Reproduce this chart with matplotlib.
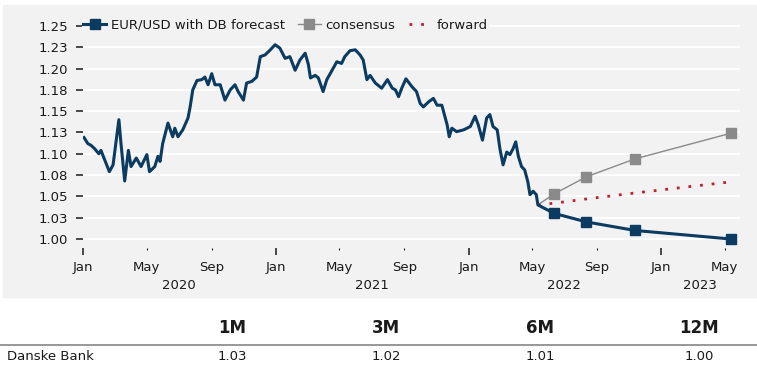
import matplotlib
matplotlib.use('Agg')
import matplotlib.pyplot as plt
import matplotlib.dates as mdates
import pandas as pd
from matplotlib.patches import Rectangle
from matplotlib.lines import Line2D

# EUR/USD spot (roughly weekly)
spot_dates = [
    '2020-01-03', '2020-01-10', '2020-01-16', '2020-01-23', '2020-01-31', '2020-02-04',
    '2020-02-11', '2020-02-20', '2020-02-27', '2020-03-04', '2020-03-09', '2020-03-13',
    '2020-03-20', '2020-03-27', '2020-04-01', '2020-04-11', '2020-04-20', '2020-05-01',
    '2020-05-06', '2020-05-16', '2020-05-22', '2020-05-26', '2020-05-31', '2020-06-10',
    '2020-06-19', '2020-06-23', '2020-06-29', '2020-07-08', '2020-07-18', '2020-07-22',
    '2020-07-27', '2020-08-04', '2020-08-13', '2020-08-19', '2020-08-25', '2020-09-01',
    '2020-09-07', '2020-09-17', '2020-09-26', '2020-10-06', '2020-10-15', '2020-10-21',
    '2020-10-31', '2020-11-06', '2020-11-16', '2020-11-25', '2020-12-02', '2020-12-11',
    '2020-12-21', '2020-12-30', '2021-01-08', '2021-01-18', '2021-01-27', '2021-02-06',
    '2021-02-15', '2021-02-25', '2021-03-03', '2021-03-07', '2021-03-16', '2021-03-22',
    '2021-03-31', '2021-04-07', '2021-04-17', '2021-04-26', '2021-05-05', '2021-05-11',
    '2021-05-21', '2021-05-31', '2021-06-09', '2021-06-15', '2021-06-22', '2021-06-28',
    '2021-07-08', '2021-07-20', '2021-07-31', '2021-08-09', '2021-08-15', '2021-08-21',
    '2021-08-27', '2021-09-04', '2021-09-15', '2021-09-24', '2021-10-01', '2021-10-07',
    '2021-10-17', '2021-10-26', '2021-11-02', '2021-11-11', '2021-11-21', '2021-11-25',
    '2021-11-30', '2021-12-09', '2021-12-22', '2022-01-04', '2022-01-13', '2022-01-19',
    '2022-01-27', '2022-02-04', '2022-02-10', '2022-02-16', '2022-02-24', '2022-03-01',
    '2022-03-07', '2022-03-14', '2022-03-20', '2022-03-26', '2022-03-31', '2022-04-05',
    '2022-04-11', '2022-04-17', '2022-04-23', '2022-04-27', '2022-05-03', '2022-05-09',
]
spot_values = [
    1.119, 1.112, 1.110, 1.106, 1.100, 1.104,
    1.093, 1.079, 1.087, 1.116, 1.140, 1.112,
    1.068, 1.104, 1.085, 1.095, 1.085, 1.099,
    1.079, 1.085, 1.097, 1.091, 1.112, 1.136,
    1.120, 1.130, 1.120, 1.128, 1.142, 1.155,
    1.175, 1.186, 1.187, 1.190, 1.181, 1.194,
    1.181, 1.181, 1.163, 1.175, 1.181, 1.173,
    1.163, 1.183, 1.185, 1.190, 1.214, 1.216,
    1.222, 1.228, 1.224, 1.212, 1.214, 1.198,
    1.210, 1.218, 1.205, 1.189, 1.192, 1.189,
    1.173, 1.187, 1.198, 1.208, 1.206, 1.214,
    1.221, 1.222, 1.216, 1.210, 1.187, 1.192,
    1.183, 1.177, 1.187, 1.177, 1.175, 1.167,
    1.177, 1.188, 1.179, 1.173, 1.159, 1.155,
    1.161, 1.165, 1.157, 1.157, 1.134, 1.120,
    1.130, 1.126, 1.128, 1.132, 1.144, 1.134,
    1.116, 1.142, 1.146, 1.132, 1.128, 1.106,
    1.087, 1.102, 1.099, 1.106, 1.114, 1.097,
    1.085, 1.081, 1.067, 1.052, 1.056, 1.052,
]

# forecast horizons: spot, 1M, 3M, 6M, 12M
fc_dates = ['2022-05-12', '2022-06-12', '2022-08-12', '2022-11-12', '2023-05-12']
db_forecast = [1.040, 1.03, 1.02, 1.01, 1.00]
consensus = [1.040, 1.053, 1.073, 1.094, 1.124]
forward = [1.040, 1.042, 1.047, 1.054, 1.067]

horizons = ['1M', '3M', '6M', '12M']
table_values = ['1.03', '1.02', '1.01', '1.00']
table_x = [232, 386, 540, 699]

y_ticks = [1.00, 1.025, 1.05, 1.075, 1.10, 1.125, 1.15, 1.175, 1.20, 1.225, 1.25]
y_labels = ['1.00', '1.03', '1.05', '1.08', '1.10', '1.13', '1.15', '1.18', '1.20', '1.23', '1.25']
years = ['2020', '2021', '2022', '2023']
year_pos = ['2020-07-01', '2021-07-01', '2022-07-01', '2023-03-16']

NAVY = '#0b3b60'
GREY = '#8a8a8a'
RED = '#c0202f'
BG = '#f2f2f2'
TXT = '#1a1a1a'

plt.rcParams['font.family'] = ['DejaVu Sans']
W, H = 757, 370
fig = plt.figure(figsize=(W / 100, H / 100), dpi=100)
fig.patches.append(Rectangle((3 / W, 1 - 297 / H), 754 / W, 292 / H,
                             transform=fig.transFigure, color=BG, zorder=-10))

ax = fig.add_axes([83 / W, 1 - 247.5 / H, 657 / W, 227.5 / H])
ax.set_zorder(1)
ax.set_facecolor(BG)
for s in ax.spines.values():
    s.set_visible(False)

sd = pd.to_datetime(spot_dates)
fd = pd.to_datetime(fc_dates)

# DB line = history + forecast, markers on forecast points only
db_x = list(sd) + list(fd)
db_y = spot_values + db_forecast
n = len(spot_values)
ax.plot(fd, consensus, color=GREY, lw=1.0, marker='s', ms=6.5, markevery=[1, 2, 3, 4],
        zorder=3, label='consensus')
ax.plot(fd, forward, color=RED, lw=2.0, linestyle=(0, (1, 3.2)), zorder=3, label='forward')
ax.plot(db_x, db_y, color=NAVY, lw=2.2, marker='s', ms=6.5,
        markevery=[n + 1, n + 2, n + 3, n + 4], zorder=4, label='EUR/USD with DB forecast')

ax.set_ylim(0.99, 1.257)
ax.set_xlim(pd.Timestamp('2020-01-01'), pd.Timestamp('2023-05-30'))
ax.set_yticks(y_ticks)
ax.set_yticklabels(y_labels)
ax.yaxis.grid(True, color='white', lw=1.3)
ax.set_axisbelow(True)
ax.tick_params(axis='y', length=5, width=1.1, pad=6, labelsize=9.5, colors=TXT)

ax.xaxis.set_major_locator(mdates.MonthLocator(bymonth=[1]))
ax.xaxis.set_minor_locator(mdates.MonthLocator(bymonth=[5, 9]))
ax.xaxis.set_major_formatter(mdates.DateFormatter('%b'))
ax.xaxis.set_minor_formatter(mdates.DateFormatter('%b'))
ax.tick_params(axis='x', which='major', length=5, width=1.1, pad=4.8, labelsize=9.5, colors=TXT)
ax.tick_params(axis='x', which='minor', length=1.5, width=0.8, pad=8.3, labelsize=9.5, colors=TXT)

for yr, pos in zip(years, year_pos):
    ax.text(pd.Timestamp(pos), -0.165, yr, transform=ax.get_xaxis_transform(),
            ha='center', va='center', fontsize=9.5, color=TXT)

h = ax.get_legend_handles_labels()
order = [2, 0, 1]
leg = ax.legend([h[0][i] for i in order], [h[1][i] for i in order], loc='upper left',
                bbox_to_anchor=(-0.002, 1.012), ncol=3, frameon=True, fontsize=9.5,
                handlelength=1.75, handletextpad=0.35, columnspacing=1.0,
                borderpad=0.1, borderaxespad=0)
leg.get_frame().set_facecolor(BG)
leg.get_frame().set_edgecolor('none')
leg.get_frame().set_alpha(1)
for t in leg.get_texts():
    t.set_color(TXT)

# forecast table below the chart
for lab, val, x in zip(horizons, table_values, table_x):
    fig.text(x / W, 1 - 328 / H, lab, ha='center', va='center', fontsize=12,
             fontweight='bold', color=TXT)
    fig.text(x / W, 1 - 356 / H, val, ha='center', va='center', fontsize=9.5, color=TXT)
fig.text(7 / W, 1 - 356 / H, 'Danske Bank', ha='left', va='center', fontsize=9.5, color=TXT)
fig.lines.append(Line2D([0, 1], [1 - 345 / H, 1 - 345 / H], transform=fig.transFigure,
                        color='#909090', lw=1.3))

fig.savefig('out.png', dpi=100, facecolor='white')
